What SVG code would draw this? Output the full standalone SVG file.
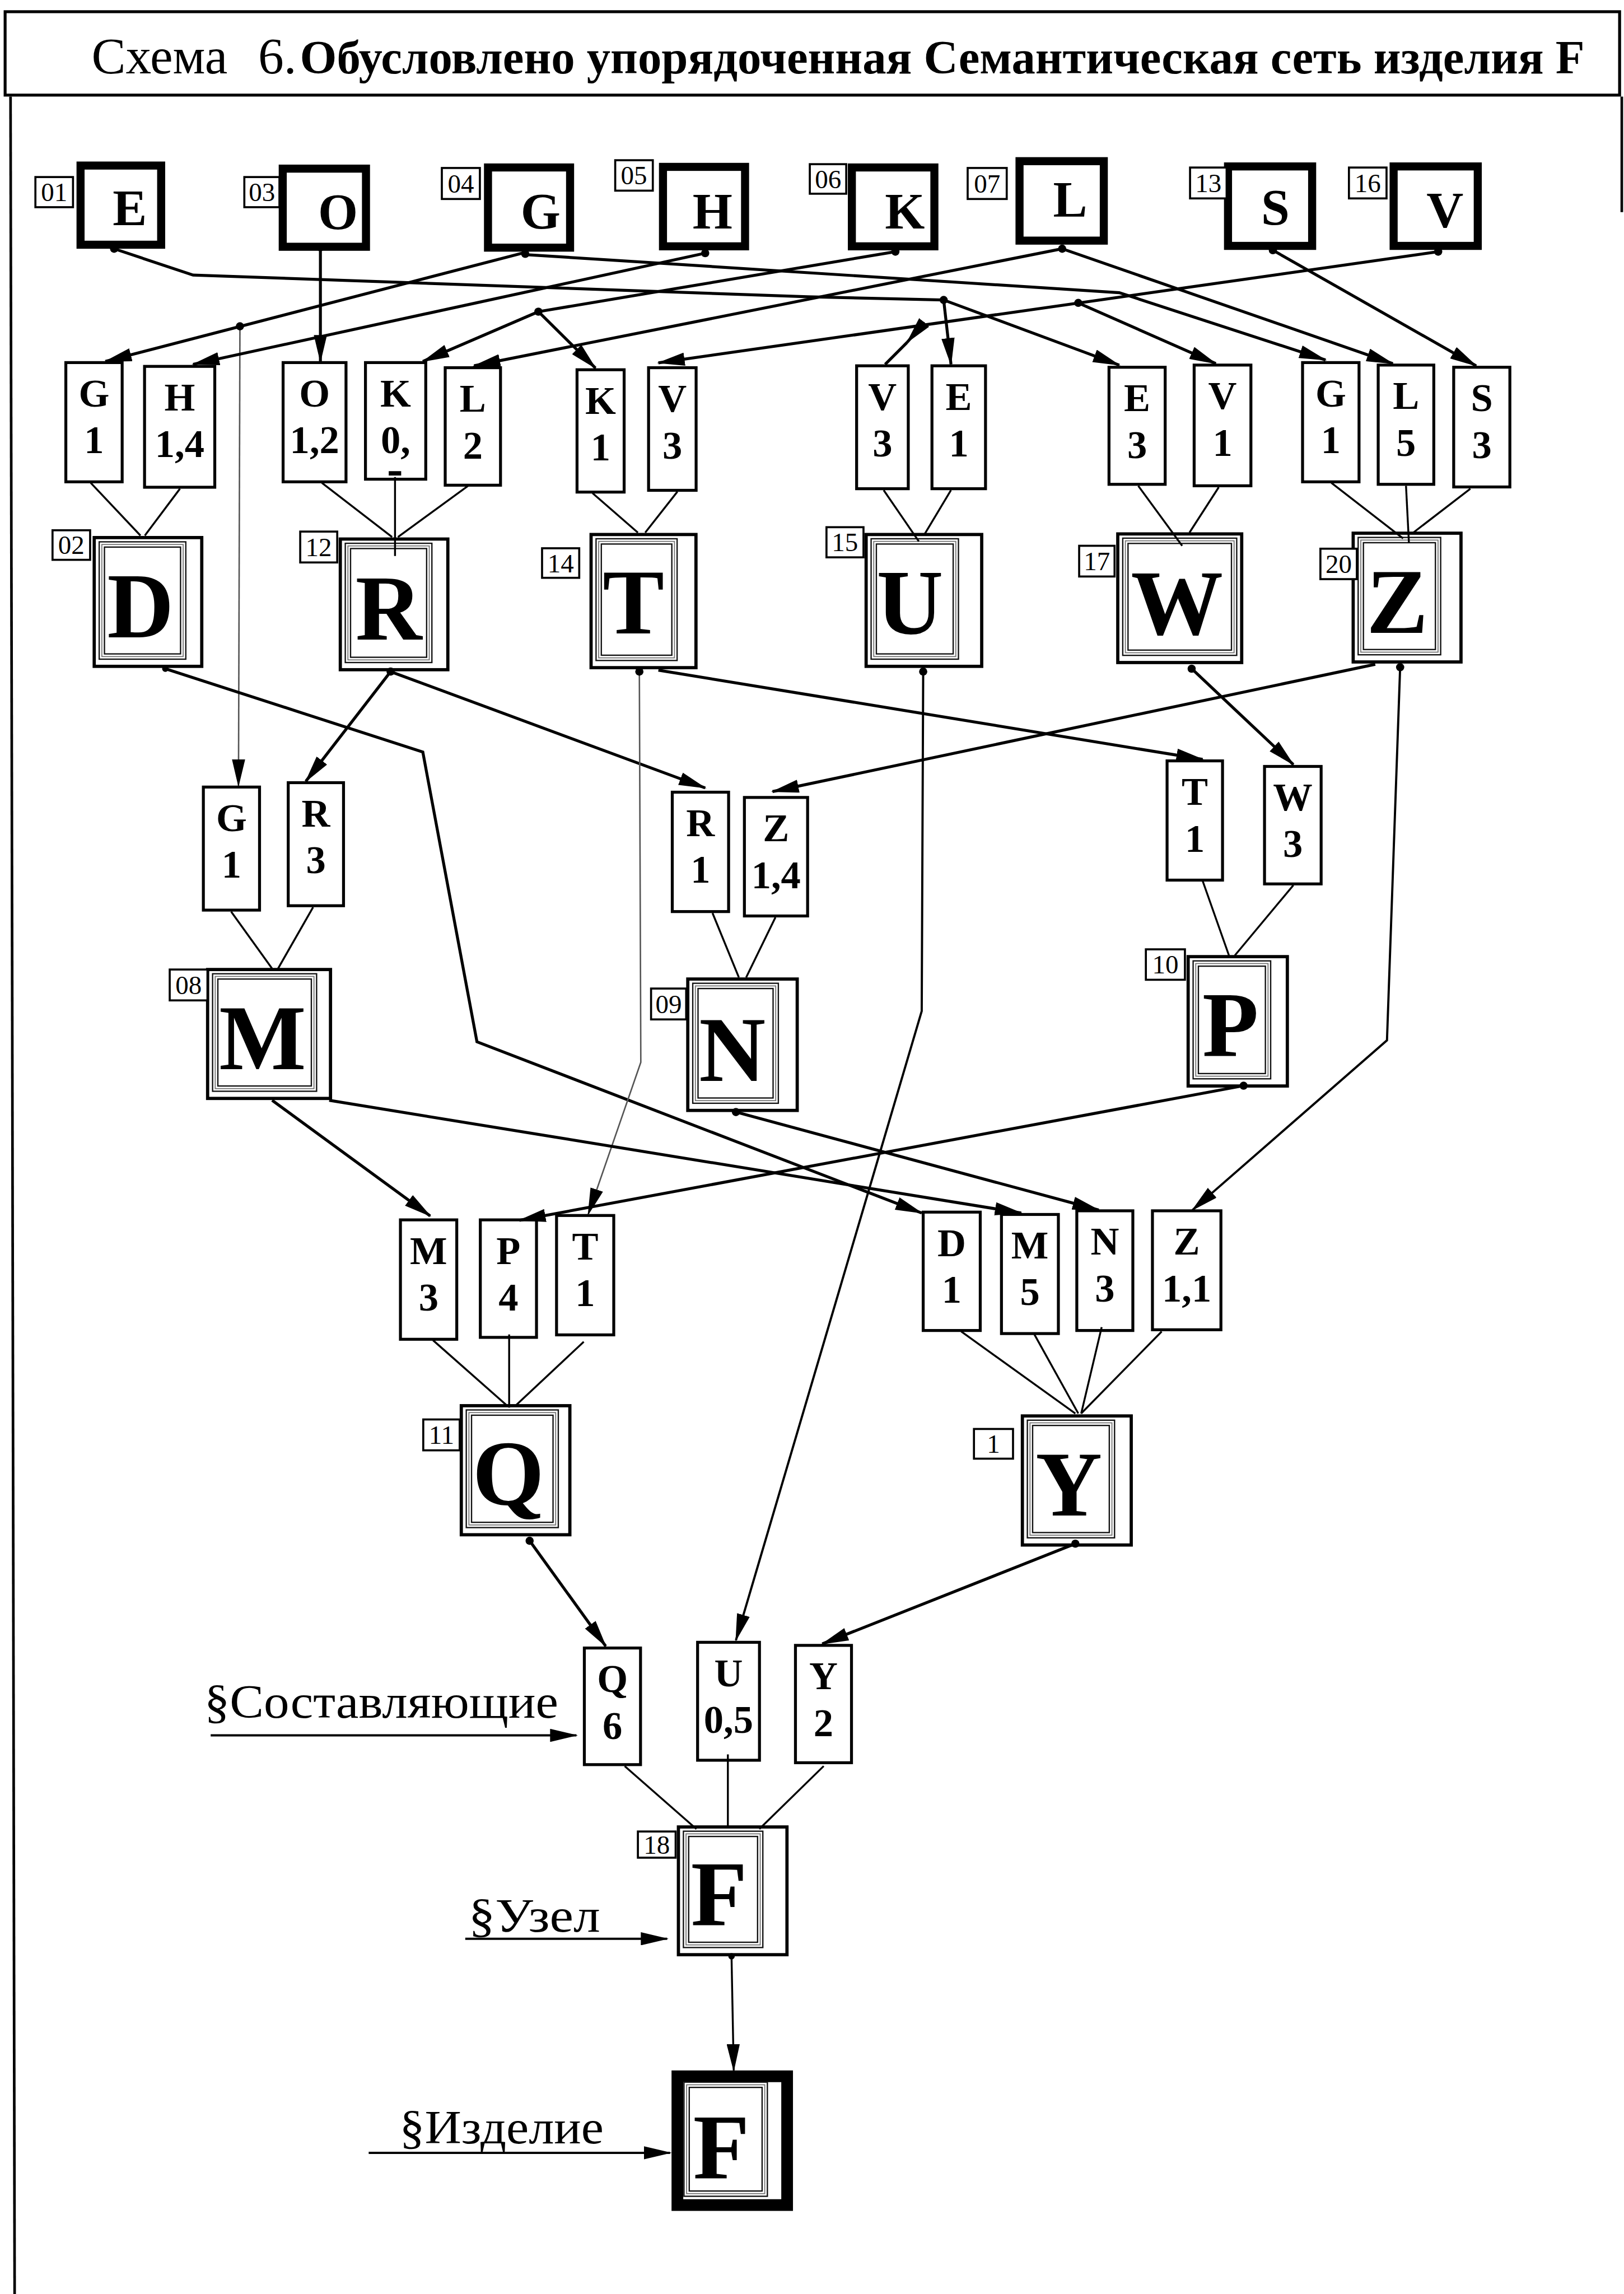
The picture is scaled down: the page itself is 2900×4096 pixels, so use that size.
<svg xmlns="http://www.w3.org/2000/svg" width="2900" height="4096" viewBox="0 0 2900 4096">
<defs>
<style>
.fr{fill:none;stroke:#000;stroke-width:1.8}
.tb{fill:#fff;stroke:#000;stroke-width:5.5}
.tag{fill:#fff;stroke:#000;stroke-width:1.4}
.sb{fill:#fff;stroke:#000;stroke-width:2}
.cb{fill:#fff;stroke:#000;stroke-width:2.2}
.cbk{fill:#fff;stroke:#000;stroke-width:8}
.fa{fill:none;stroke:#111;stroke-width:0.9}
.fb{fill:none;stroke:#777;stroke-width:0.7}
.ln{fill:none;stroke:#000;stroke-width:2}
.lm{fill:none;stroke:#000;stroke-width:1.5}
.tn{fill:none;stroke:#000;stroke-width:1.3}
.gl{fill:none;stroke:#555;stroke-width:1}
.ar{marker-end:url(#ah)}
.dot{fill:#000}
text{font-family:"Liberation Serif","Times New Roman",serif;fill:#000}
.tl{font-size:35px}
.tb2{font-size:32px;font-weight:bold}
.tt{font-size:35px;font-weight:bold;text-anchor:middle}
.tg{font-size:18px;text-anchor:middle}
.sl{font-size:27px;font-weight:bold;text-anchor:middle}
.bl{font-size:63px;font-weight:bold;text-anchor:middle}
.lb{font-size:32px}
</style>
<marker id="ah" viewBox="0 0 19 9" refX="18" refY="4.5" markerWidth="19" markerHeight="9" markerUnits="userSpaceOnUse" orient="auto"><path d="M0,0 L19,4.5 L0,9 Z" fill="#000"/></marker>
</defs>
<rect x="0" y="0" width="2900" height="4096" fill="#fff"/>
<g transform="scale(2.6126)">
<g id="frame">
<rect x="3.5" y="8" width="1103.5" height="57" fill="none" stroke="#000" stroke-width="2"/>
<line class="fr" x1="7.2" y1="66" x2="10" y2="1568"/>
<line class="fr" x1="1108.5" y1="66" x2="1108.5" y2="145"/>
<text class="tl" x="62.6" y="50.3">Схема</text>
<text class="tl" x="176.5" y="50.3">6.</text>
<text class="tb2" x="205" y="50.3" textLength="878" lengthAdjust="spacingAndGlyphs">Обусловлено упорядоченная Семантическая сеть изделия F</text>
</g>

<g id="nodes-top">
<g id="n01-E"><rect class="tb" x="55.05" y="113.15" width="55.1" height="54.1"/><rect class="tag" x="24.2" y="121" width="25.7" height="20.6"/><text class="tg" x="37" y="137.5">01</text><text class="tt" x="88.7" y="154">E</text></g>
<g id="n03-O"><rect class="tb" x="193.25" y="115.25" width="56.9" height="53.4"/><rect class="tag" x="167" y="121" width="24" height="20.6"/><text class="tg" x="179" y="137.5">03</text><text class="tt" x="231" y="156.5" font-size="38">O</text></g>
<g id="n04-G"><rect class="tb" x="333.55" y="114.45" width="56.1" height="54.8"/><rect class="tag" x="302" y="114.8" width="26" height="21.2"/><text class="tg" x="315" y="131.6">04</text><text class="tt" x="369.5" y="156">G</text></g>
<g id="n05-H"><rect class="tb" x="453.15" y="114.05" width="56.1" height="54.3"/><rect class="tag" x="420.5" y="109.5" width="25.7" height="20.8"/><text class="tg" x="433.3" y="126.1">05</text><text class="tt" x="487" y="156">H</text></g>
<g id="n06-K"><rect class="tb" x="582.25" y="114.45" width="56.4" height="53.9"/><rect class="tag" x="553.5" y="112.2" width="24.9" height="20.2"/><text class="tg" x="566" y="128.5">06</text><text class="tt" x="618.5" y="156">K</text></g>
<g id="n07-L"><rect class="tb" x="696.85" y="110.15" width="57.6" height="54.3"/><rect class="tag" x="661.4" y="114.8" width="26.7" height="21.2"/><text class="tg" x="674.7" y="131.6">07</text><text class="tt" x="731.5" y="148">L</text></g>
<g id="n13-S"><rect class="tb" x="839.35" y="113.75" width="57.5" height="54.3"/><rect class="tag" x="813.4" y="114.5" width="25" height="21.1"/><text class="tg" x="825.9" y="131.3">13</text><text class="tt" x="871.7" y="153.5">S</text></g>
<g id="n16-V"><rect class="tb" x="952.55" y="113.75" width="57.5" height="54.3"/><rect class="tag" x="922" y="114.5" width="25.7" height="21.1"/><text class="tg" x="934.8" y="131.3">16</text><text class="tt" x="987.6" y="155.5">V</text></g>
</g>

<g id="nodes-refs">
<g id="r-G1a"><rect class="sb" x="45" y="247.8" width="38.5" height="81.5"/><text class="sl" x="64.25" y="277.8">G</text><text class="sl" x="64.25" y="309.8">1</text></g>
<g id="r-H14"><rect class="sb" x="98.8" y="250.4" width="48" height="82.6"/><text class="sl" x="122.8" y="280.4">H</text><text class="sl" x="122.8" y="312.4">1,4</text></g>
<g id="r-O12"><rect class="sb" x="193.5" y="247.8" width="43" height="81.5"/><text class="sl" x="215" y="277.8">O</text><text class="sl" x="215" y="309.8">1,2</text></g>
<g id="r-K0"><rect class="sb" x="249.8" y="247.8" width="41.2" height="79.7"/><text class="sl" x="270.4" y="277.8">K</text><text class="sl" x="270.4" y="309.8">0,</text><rect x="265.7" y="322" width="8.5" height="3" fill="#000"/></g>
<g id="r-L2"><rect class="sb" x="304.3" y="251.3" width="37.8" height="80.3"/><text class="sl" x="323.2" y="281.3">L</text><text class="sl" x="323.2" y="313.3">2</text></g>
<g id="r-K1"><rect class="sb" x="394.4" y="252.7" width="32.2" height="83.6"/><text class="sl" x="410.5" y="282.7">K</text><text class="sl" x="410.5" y="314.7">1</text></g>
<g id="r-V3a"><rect class="sb" x="443.3" y="251.3" width="32.5" height="83.8"/><text class="sl" x="459.55" y="281.3">V</text><text class="sl" x="459.55" y="313.3">3</text></g>
<g id="r-V3b"><rect class="sb" x="585.5" y="250" width="35.3" height="84"/><text class="sl" x="603.15" y="280">V</text><text class="sl" x="603.15" y="312">3</text></g>
<g id="r-E1"><rect class="sb" x="637" y="250" width="36.6" height="84"/><text class="sl" x="655.3" y="280">E</text><text class="sl" x="655.3" y="312">1</text></g>
<g id="r-E3"><rect class="sb" x="758" y="251" width="38.4" height="80"/><text class="sl" x="777.2" y="281">E</text><text class="sl" x="777.2" y="313">3</text></g>
<g id="r-V1"><rect class="sb" x="816.2" y="249.5" width="38.8" height="82.5"/><text class="sl" x="835.6" y="279.5">V</text><text class="sl" x="835.6" y="311.5">1</text></g>
<g id="r-G1b"><rect class="sb" x="890.3" y="247.8" width="38.6" height="81.5"/><text class="sl" x="909.6" y="277.8">G</text><text class="sl" x="909.6" y="309.8">1</text></g>
<g id="r-L5"><rect class="sb" x="942" y="249.5" width="38" height="81.5"/><text class="sl" x="961" y="279.5">L</text><text class="sl" x="961" y="311.5">5</text></g>
<g id="r-S3"><rect class="sb" x="993.6" y="251" width="38.4" height="81.8"/><text class="sl" x="1012.8" y="281">S</text><text class="sl" x="1012.8" y="313">3</text></g>

<g id="r-G1c"><rect class="sb" x="139" y="537.9" width="38.4" height="84.1"/><text class="sl" x="158.2" y="567.9">G</text><text class="sl" x="158.2" y="599.9">1</text></g>
<g id="r-R3"><rect class="sb" x="197" y="534.9" width="37.8" height="84.1"/><text class="sl" x="215.9" y="564.9">R</text><text class="sl" x="215.9" y="596.9">3</text></g>
<g id="r-R1"><rect class="sb" x="459.5" y="541.4" width="38.5" height="81.6"/><text class="sl" x="478.75" y="571.4">R</text><text class="sl" x="478.75" y="603.4">1</text></g>
<g id="r-Z14"><rect class="sb" x="508.8" y="545" width="43.2" height="81"/><text class="sl" x="530.4" y="575">Z</text><text class="sl" x="530.4" y="607">1,4</text></g>
<g id="r-T1a"><rect class="sb" x="797.7" y="520" width="37.9" height="81.5"/><text class="sl" x="816.65" y="550">T</text><text class="sl" x="816.65" y="582">1</text></g>
<g id="r-W3"><rect class="sb" x="864.3" y="523.8" width="38.7" height="80.3"/><text class="sl" x="883.65" y="553.8">W</text><text class="sl" x="883.65" y="585.8">3</text></g>

<g id="r-M3"><rect class="sb" x="273.7" y="833.7" width="38.5" height="81.6"/><text class="sl" x="292.95" y="863.7">M</text><text class="sl" x="292.95" y="895.7">3</text></g>
<g id="r-P4"><rect class="sb" x="328.3" y="833.7" width="38.4" height="80.3"/><text class="sl" x="347.5" y="863.7">P</text><text class="sl" x="347.5" y="895.7">4</text></g>
<g id="r-T1b"><rect class="sb" x="380.4" y="830.7" width="39.1" height="81.6"/><text class="sl" x="399.95" y="860.7">T</text><text class="sl" x="399.95" y="892.7">1</text></g>
<g id="r-D1"><rect class="sb" x="631" y="828.4" width="39" height="80.9"/><text class="sl" x="650.5" y="858.4">D</text><text class="sl" x="650.5" y="890.4">1</text></g>
<g id="r-M5"><rect class="sb" x="684.5" y="830" width="38.9" height="81.4"/><text class="sl" x="703.95" y="860">M</text><text class="sl" x="703.95" y="892">5</text></g>
<g id="r-N3"><rect class="sb" x="736" y="827.5" width="38.3" height="81.8"/><text class="sl" x="755.15" y="857.5">N</text><text class="sl" x="755.15" y="889.5">3</text></g>
<g id="r-Z11"><rect class="sb" x="787.7" y="827.5" width="46.8" height="81.3"/><text class="sl" x="811.1" y="857.5">Z</text><text class="sl" x="811.1" y="889.5">1,1</text></g>

<g id="r-Q6"><rect class="sb" x="399.4" y="1126.3" width="38.4" height="79.7"/><text class="sl" x="418.6" y="1156.3">Q</text><text class="sl" x="418.6" y="1188.3">6</text></g>
<g id="r-U05"><rect class="sb" x="476.8" y="1122.4" width="42.3" height="80.6"/><text class="sl" x="497.95" y="1152.4">U</text><text class="sl" x="497.95" y="1184.4">0,5</text></g>
<g id="r-Y2"><rect class="sb" x="543.7" y="1124.5" width="38.3" height="80.2"/><text class="sl" x="562.85" y="1154.5">Y</text><text class="sl" x="562.85" y="1186.5">2</text></g>
</g>

<g id="nodes-compound">
<g id="c02-D"><rect class="cb" x="64.4" y="367.4" width="73.5" height="88"/><rect class="fa" x="67.8" y="370.3" width="59.2" height="80.2"/><rect class="fb" x="69.6" y="372.1" width="55.6" height="76.6"/><rect class="fa" x="71.4" y="373.9" width="52" height="73"/><rect class="tag" x="35.9" y="362.4" width="25.7" height="20.2"/><text class="tg" x="48.7" y="378.7">02</text><text class="bl" x="96" y="435.4">D</text></g>
<g id="c12-R"><rect class="cb" x="232.6" y="368.4" width="73.5" height="89.3"/><rect class="fa" x="236" y="371.3" width="59.2" height="81.5"/><rect class="fb" x="237.8" y="373.1" width="55.6" height="77.9"/><rect class="fa" x="239.6" y="374.9" width="52" height="74.3"/><rect class="tag" x="205.2" y="363.3" width="25.3" height="21.1"/><text class="tg" x="217.8" y="380">12</text><text class="bl" x="265.7" y="437.2">R</text></g>
<g id="c14-T"><rect class="cb" x="404" y="365.3" width="71.7" height="91"/><rect class="fa" x="407.4" y="368.2" width="55.4" height="83.2"/><rect class="fb" x="409.2" y="370" width="51.8" height="79.6"/><rect class="fa" x="411" y="371.8" width="48.2" height="76"/><rect class="tag" x="370.5" y="374.7" width="25.4" height="20.2"/><text class="tg" x="383.2" y="391">14</text><text class="bl" x="433" y="432.8">T</text></g>
<g id="c15-U"><rect class="cb" x="592" y="365.3" width="79" height="90.1"/><rect class="fa" x="595.4" y="368.2" width="59.7" height="82.3"/><rect class="fb" x="597.2" y="370" width="56.1" height="78.7"/><rect class="fa" x="599" y="371.8" width="52.5" height="75.1"/><rect class="tag" x="564.9" y="360.3" width="25.3" height="20.6"/><text class="tg" x="577.5" y="376.8">15</text><text class="bl" x="622" y="432.8">U</text></g>
<g id="c17-W"><rect class="cb" x="764" y="364.9" width="84.7" height="87.9"/><rect class="fa" x="767.4" y="367.8" width="77.9" height="80.1"/><rect class="fb" x="769.2" y="369.6" width="74.3" height="76.5"/><rect class="fa" x="771" y="371.4" width="70.7" height="72.9"/><rect class="tag" x="737.6" y="373" width="24.2" height="21"/><text class="tg" x="749.7" y="389.7">17</text><text class="bl" x="804.5" y="433.6">W</text></g>
<g id="c20-Z"><rect class="cb" x="924.9" y="364.4" width="73.7" height="88"/><rect class="fa" x="928.3" y="367.3" width="56.4" height="80.2"/><rect class="fb" x="930.1" y="369.1" width="52.8" height="76.6"/><rect class="fa" x="931.9" y="370.9" width="49.2" height="73"/><rect class="tag" x="902.5" y="375" width="24.9" height="20.8"/><text class="tg" x="915" y="391.6">20</text><text class="bl" x="955" y="432.4">Z</text></g>
<g id="c08-M"><rect class="cb" x="141.9" y="662.6" width="84" height="88.1"/><rect class="fa" x="145.3" y="665.5" width="71.1" height="80.3"/><rect class="fb" x="147.1" y="667.3" width="67.5" height="76.7"/><rect class="fa" x="148.9" y="669.1" width="63.9" height="73.1"/><rect class="tag" x="116" y="662.6" width="25.8" height="21.1"/><text class="tg" x="128.9" y="679.3">08</text><text class="bl" x="179.5" y="730.6">M</text></g>
<g id="c09-N"><rect class="cb" x="470.1" y="669.1" width="74.8" height="89.8"/><rect class="fa" x="473.5" y="672" width="58.5" height="82"/><rect class="fb" x="475.3" y="673.8" width="54.9" height="78.4"/><rect class="fa" x="477.1" y="675.6" width="51.3" height="74.8"/><rect class="tag" x="445" y="675.6" width="24" height="21.1"/><text class="tg" x="457" y="692.3">09</text><text class="bl" x="500.5" y="738.6">N</text></g>
<g id="c10-P"><rect class="cb" x="812.1" y="653.8" width="67.8" height="88.4"/><rect class="fa" x="815.5" y="656.7" width="53" height="80.6"/><rect class="fb" x="817.3" y="658.5" width="49.4" height="77"/><rect class="fa" x="819.1" y="660.3" width="45.8" height="73.4"/><rect class="tag" x="783.2" y="648.8" width="26.7" height="20.8"/><text class="tg" x="796.5" y="665.4">10</text><text class="bl" x="841" y="721.8">P</text></g>
<g id="c11-Q"><rect class="cb" x="315.3" y="960.7" width="74.2" height="88.2"/><rect class="fa" x="318.7" y="963.6" width="62.9" height="80.4"/><rect class="fb" x="320.5" y="965.4" width="59.3" height="76.8"/><rect class="fa" x="322.3" y="967.2" width="55.7" height="73.2"/><rect class="tag" x="289.3" y="970.1" width="24.9" height="21.1"/><text class="tg" x="301.8" y="986.8">11</text><text class="bl" x="347.5" y="1028">Q</text></g>
<g id="c1-Y"><rect class="cb" x="698.8" y="967.7" width="74.4" height="88.2"/><rect class="fa" x="702.2" y="970.6" width="59.6" height="80.4"/><rect class="fb" x="704" y="972.4" width="56" height="76.8"/><rect class="fa" x="705.8" y="974.2" width="52.4" height="73.2"/><rect class="tag" x="665.7" y="976.6" width="26.7" height="20.3"/><text class="tg" x="679" y="993">1</text><text class="bl" x="730.6" y="1035.6">Y</text></g>
<g id="c18-F"><rect class="cb" x="463.7" y="1248.6" width="74.2" height="87.3"/><rect class="fa" x="467.1" y="1251.5" width="54.3" height="79.5"/><rect class="fb" x="468.9" y="1253.3" width="50.7" height="75.9"/><rect class="fa" x="470.7" y="1255.1" width="47.1" height="72.3"/><rect class="tag" x="436" y="1251.7" width="25.8" height="17.9"/><text class="tg" x="448.9" y="1266.8">18</text><text class="bl" x="491.5" y="1315.5">F</text></g>
<g id="product-F"><rect class="cbk" x="463" y="1419" width="75" height="88"/><rect class="fa" x="467.5" y="1423" width="57" height="78"/><rect class="fb" x="469.3" y="1424.8" width="53.4" height="74.4"/><rect class="fa" x="471.1" y="1426.6" width="49.8" height="70.8"/><text class="bl" x="493" y="1488.5">F</text></g>
</g>

<g id="labels">
<text class="lb" x="139.6" y="1174.1" textLength="242" lengthAdjust="spacingAndGlyphs">§Составляющие</text>
<text class="lb" x="320.2" y="1320" textLength="90" lengthAdjust="spacingAndGlyphs">§Узел</text>
<text class="lb" x="273" y="1464.8" textLength="139.6" lengthAdjust="spacingAndGlyphs">§Изделие</text>
</g>

<g id="connectors">
<polyline class="ln" points="78,170 132,188 552,202.8 645,205"/>
<line class="ln ar" x1="645" y1="205" x2="650" y2="249"/>
<line class="ln ar" x1="645" y1="205" x2="765" y2="249.5"/>
<line class="ln ar" x1="219" y1="169" x2="219" y2="247"/>
<line class="ln ar" x1="357" y1="173" x2="72" y2="247"/>
<line class="gl ar" x1="164" y1="223" x2="163" y2="537"/>
<polyline class="ln ar" points="359,174 765,200 906,246"/>
<line class="ln ar" x1="482" y1="173" x2="132" y2="249"/>
<line class="ln" x1="612" y1="172" x2="368" y2="213"/>
<line class="ln ar" x1="368" y1="213" x2="289" y2="247"/>
<line class="ln ar" x1="368" y1="213" x2="407" y2="251.5"/>
<line class="ln ar" x1="726" y1="170" x2="324" y2="250"/>
<line class="ln ar" x1="726" y1="170" x2="952" y2="248.5"/>
<line class="ln ar" x1="870" y1="171" x2="1009" y2="250"/>
<line class="ln ar" x1="983" y1="172" x2="450" y2="248"/>
<line class="ln ar" x1="737" y1="207" x2="831" y2="248.5"/>
<line class="ln ar" x1="630" y1="222.3" x2="620" y2="234"/>
<line class="ln" x1="620" y1="234" x2="605" y2="249"/>

<line class="tn" x1="62" y1="330" x2="96" y2="366"/>
<line class="tn" x1="123" y1="334" x2="99" y2="366"/>
<line class="tn" x1="220" y1="330" x2="268" y2="367"/>
<line class="tn" x1="270" y1="326" x2="270" y2="380"/>
<line class="tn" x1="320" y1="332" x2="272" y2="367"/>
<line class="tn" x1="405" y1="337" x2="436" y2="364"/>
<line class="tn" x1="463" y1="336" x2="441" y2="364"/>
<line class="tn" x1="604" y1="335" x2="628" y2="370"/>
<line class="tn" x1="650" y1="335" x2="632" y2="365"/>
<line class="tn" x1="778" y1="332" x2="808" y2="373"/>
<line class="tn" x1="833" y1="333" x2="813" y2="364"/>
<line class="tn" x1="910" y1="330" x2="959" y2="368"/>
<line class="tn" x1="961" y1="332" x2="963" y2="371"/>
<line class="tn" x1="1005" y1="334" x2="966" y2="364"/>

<polyline class="ln ar" points="113,457 289,514 326,712 630,829"/>
<line class="ln ar" x1="267" y1="459" x2="209" y2="534"/>
<line class="ln ar" x1="267" y1="459" x2="482" y2="538.5"/>
<polyline class="gl ar" points="437,459 438,726 402,830"/>
<line class="ln ar" x1="450" y1="458" x2="822" y2="519"/>
<polyline class="lm ar" points="631,459 630,691 503,1121"/>
<line class="ln ar" x1="814.5" y1="457" x2="884" y2="522.5"/>
<line class="ln ar" x1="940" y1="454" x2="528" y2="541"/>
<polyline class="lm ar" points="957,456 948,711 815,827"/>

<line class="tn" x1="158" y1="623" x2="186" y2="662"/>
<line class="tn" x1="214" y1="620" x2="190" y2="662"/>
<line class="tn" x1="487" y1="624" x2="505" y2="668"/>
<line class="tn" x1="530" y1="627" x2="510" y2="668"/>
<line class="tn" x1="822" y1="602" x2="840" y2="653"/>
<line class="tn" x1="884" y1="605" x2="844" y2="653"/>

<line class="ln ar" x1="186" y1="752" x2="294" y2="831"/>
<line class="ln ar" x1="225" y1="752" x2="698" y2="829"/>
<line class="ln ar" x1="503" y1="760" x2="751" y2="827"/>
<line class="ln ar" x1="850" y1="742" x2="355" y2="834"/>

<line class="tn" x1="296" y1="916" x2="347" y2="961"/>
<line class="tn" x1="348" y1="912" x2="348" y2="962"/>
<line class="tn" x1="399" y1="917" x2="352" y2="961"/>
<line class="tn" x1="657" y1="910" x2="735" y2="966"/>
<line class="tn" x1="707" y1="912" x2="737" y2="966"/>
<line class="tn" x1="753" y1="907" x2="739" y2="966"/>
<line class="tn" x1="794" y1="910" x2="739" y2="966"/>

<line class="ln ar" x1="362" y1="1053" x2="414" y2="1125"/>
<line class="ln ar" x1="735" y1="1055" x2="562" y2="1123.5"/>

<line class="tn" x1="427" y1="1207" x2="476" y2="1250"/>
<line class="tn" x1="497.5" y1="1199" x2="497.5" y2="1249"/>
<line class="tn" x1="563" y1="1207" x2="519" y2="1250"/>

<line class="tn ar" x1="500" y1="1337" x2="501.5" y2="1415"/>

<line class="lm ar" x1="144" y1="1186" x2="394" y2="1186"/>
<line class="lm ar" x1="318" y1="1325" x2="456" y2="1325"/>
<line class="lm ar" x1="252" y1="1471.3" x2="458" y2="1471.3"/>

<g class="dot">
<circle cx="78" cy="170" r="2.8"/><circle cx="645" cy="205" r="2.8"/><circle cx="219" cy="169" r="2.8"/>
<circle cx="359" cy="173.5" r="2.8"/><circle cx="164" cy="223" r="2.8"/><circle cx="482" cy="173" r="2.8"/>
<circle cx="612" cy="172" r="2.8"/><circle cx="368" cy="213" r="2.8"/><circle cx="726" cy="170" r="2.8"/>
<circle cx="870" cy="171" r="2.8"/><circle cx="983" cy="172" r="2.8"/><circle cx="737" cy="207" r="2.8"/>
<circle cx="630" cy="222.3" r="2.8"/>
<circle cx="113" cy="457" r="2.2"/><circle cx="267" cy="459" r="2.8"/><circle cx="437" cy="459" r="2.8"/>
<circle cx="631" cy="459" r="2.8"/><circle cx="814.5" cy="457" r="2.8"/><circle cx="957" cy="456" r="2.8"/>
<circle cx="503" cy="760" r="2.8"/><circle cx="850" cy="742" r="2.8"/>
<circle cx="362" cy="1053" r="2.8"/><circle cx="735" cy="1055" r="2.8"/><circle cx="500" cy="1337" r="2.2"/>
</g>
</g>
</g>
</svg>
